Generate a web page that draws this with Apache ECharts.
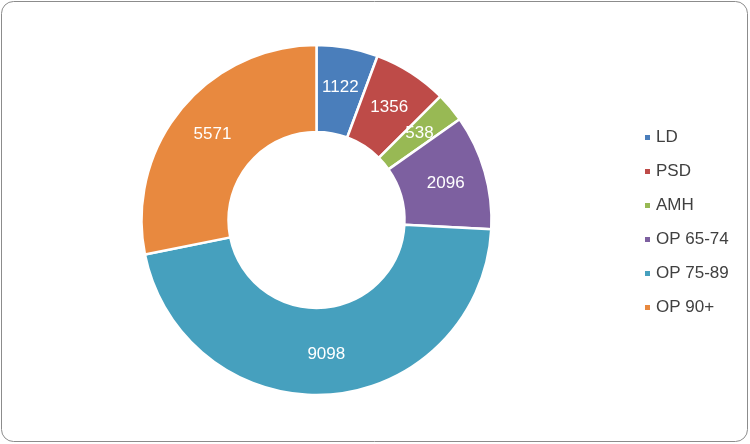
<!DOCTYPE html>
<html>
<head>
<meta charset="utf-8">
<script src="https://cdn.jsdelivr.net/npm/echarts@6/dist/echarts.min.js"></script>
<style>
html,body{margin:0;padding:0;background:#fff;}
#chart{width:750px;height:444px;}
</style>
</head>
<body>
<div id="chart"></div>
<script>
const categories = ['LD', 'PSD', 'AMH', 'OP 65-74', 'OP 75-89', 'OP 90+'];
const values = [1122, 1356, 538, 2096, 9098, 5571];
const colors = ['#4A7EBB', '#BE4B48', '#98B954', '#7D60A0', '#46A0BE', '#E8893F'];

const chart = echarts.init(document.getElementById('chart'));
chart.setOption({
  animation: false,
  color: colors,
  graphic: [{
    type: 'rect',
    shape: {x: 1.5, y: 1.5, width: 746, height: 440, r: 12},
    style: {fill: 'none', stroke: '#8c8c8c', lineWidth: 1},
    silent: true
  }],
  legend: {
    orient: 'vertical',
    left: 638,
    top: 124,
    icon: 'rect',
    itemWidth: 7,
    itemHeight: 7,
    itemGap: 17,
    textStyle: {fontFamily: 'Liberation Sans', fontSize: 17, color: '#404040'},
    data: categories
  },
  series: [{
    type: 'pie',
    center: [316.5, 220],
    radius: [88, 175],
    startAngle: 90,
    clockwise: true,
    data: categories.map((c, i) => ({name: c, value: values[i]})),
    itemStyle: {borderColor: '#fff', borderWidth: 2.5},
    label: {
      show: true,
      position: 'inside',
      formatter: '{c}',
      color: '#fff',
      fontFamily: 'Liberation Sans',
      fontSize: 17
    },
    labelLine: {show: false},
    emphasis: {disabled: true}
  }]
});
</script>
</body>
</html>
